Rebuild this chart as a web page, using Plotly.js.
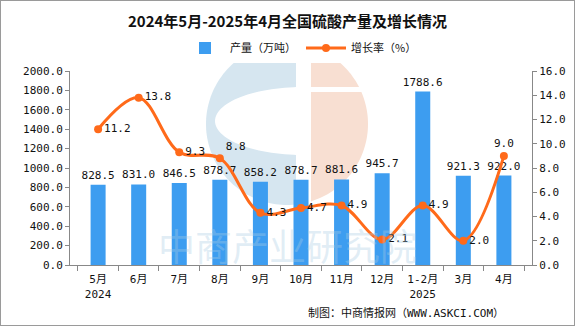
<!DOCTYPE html>
<html>
<head>
<meta charset="utf-8">
<script src="https://cdn.plot.ly/plotly-3.0.1.min.js"></script>
<style>
html,body{margin:0;padding:0;background:#fff;}
#chart{width:575px;height:326px;box-sizing:border-box;border:1px solid #9a9a9a;}
</style>
</head>
<body>
<div id="chart"></div>
<script>
const categories = ["5月<br>2024","6月","7月","8月","9月","10月","11月","12月","1-2月<br>2025","3月","4月"];
const output = [828.5, 831.0, 846.5, 878.7, 858.2, 878.7, 881.6, 945.7, 1788.6, 921.3, 922.0];
const growth = [11.2, 13.8, 9.3, 8.8, 4.3, 4.7, 4.9, 2.1, 4.9, 2.0, 9.0];
const growthLabelPos = ["middle right","middle right","middle right","top right","middle right","middle right","middle right","middle right","middle right","middle right","top center"];

const FONT = "SimSun, 'DejaVu Sans Mono', 'Noto Sans CJK SC', monospace";

// plot geometry (pixels inside the 573x324 plot div)
const M = {l: 69, r: 42, t: 70, b: 60};
const W = 573, H = 324;
const PW = W - M.l - M.r, PH = H - M.t - M.b;
// convert page pixel coords (image incl. 1px border) to paper coords
const px = x => (x - 1 - M.l) / PW;
const py = y => 1 - (y - 1 - M.t) / PH;

function polyPath(pts) {
  return "M" + pts.map(p => px(p[0]).toFixed(4) + "," + py(p[1]).toFixed(4)).join("L") + "Z";
}
// watermark logo geometry
const cx = 287, cy = 124, R = 81;
function circlePart(xmin, xmax) {
  const pts = [];
  for (let i = 0; i <= 180; i++) {
    const a = Math.PI * 2 * i / 180;
    let x = cx + R * Math.cos(a), y = cy + R * Math.sin(a);
    if (x < xmin) x = xmin;
    if (x > xmax) x = xmax;
    pts.push([x, y]);
  }
  return pts;
}
function ellipsePts(ex, ey, rx, ry, xmax) {
  const pts = [];
  for (let i = 0; i <= 120; i++) {
    const a = Math.PI * 2 * i / 120;
    let x = ex + rx * Math.cos(a);
    if (x > xmax) x = xmax;
    pts.push([x, ey + ry * Math.sin(a)]);
  }
  return pts;
}
const logoShapes = [
  {type: "path", xref: "paper", yref: "paper", layer: "below", line: {width: 0},
   fillcolor: "#D6E6F0", path: polyPath(circlePart(0, 296))},
  {type: "path", xref: "paper", yref: "paper", layer: "below", line: {width: 0},
   fillcolor: "#FFFFFF", path: polyPath(ellipsePts(303, 121, 88, 34, 296))},
  {type: "path", xref: "paper", yref: "paper", layer: "below", line: {width: 0},
   fillcolor: "#F8DFD2", path: polyPath(circlePart(311, 999))},
  {type: "rect", xref: "paper", yref: "paper", layer: "below", line: {width: 0},
   fillcolor: "#FFFFFF", x0: px(300), x1: px(380), y0: py(87), y1: py(92)}
];

const bar = {
  type: "bar", name: "产量（万吨）", x: categories, y: output,
  marker: {color: "#3D9DF0"}, width: 0.37,
  text: output.map(v => v.toFixed(1)), textposition: "outside", constraintext: "none",
  textfont: {family: FONT, size: 11, color: "#111"}, cliponaxis: false,
  yaxis: "y"
};
const line = {
  type: "scatter", mode: "lines+markers+text", name: "增长率（%）", x: categories, y: growth,
  line: {color: "#FF6A1A", width: 3, shape: "spline", smoothing: 1},
  marker: {color: "#FF6A1A", size: 8},
  text: growth.map(v => v.toFixed(1)), textposition: growthLabelPos,
  textfont: {family: FONT, size: 11, color: "#111"}, cliponaxis: false,
  yaxis: "y2"
};

const layout = {
  width: W, height: H,
  margin: M,
  paper_bgcolor: "#fff", plot_bgcolor: "rgba(0,0,0,0)",
  font: {family: FONT, size: 11, color: "#111"},
  title: {text: "<b>2024年5月-2025年4月全国硫酸产量及增长情况</b>", x: 0.5, xanchor: "center", y: 0.935, yanchor: "middle",
          font: {family: "'Noto Sans CJK SC', serif", size: 15, color: "#111"}},
  showlegend: true,
  legend: {orientation: "h", x: 0.5, xanchor: "center", y: py(48), yanchor: "middle",
           font: {family: "'Noto Sans CJK SC'", size: 11}, itemwidth: 40, traceorder: "normal"},
  bargap: 0.63,
  xaxis: {type: "category", showline: true, linecolor: "#888", ticks: "outside", tickson: "boundaries",
          ticklen: 5, tickcolor: "#888", showgrid: false, ticklabelstandoff: 4, tickfont: {family: FONT, size: 11}},
  yaxis: {range: [0, 2000], dtick: 200, tickformat: ".1f", showline: true, linecolor: "#888",
          ticks: "outside", ticklen: 4, tickcolor: "#888", showgrid: false, zeroline: false,
          tickfont: {family: FONT, size: 11}},
  yaxis2: {range: [0, 16], dtick: 2, tickformat: ".1f", overlaying: "y", side: "right", showline: true,
           linecolor: "#888", ticks: "outside", ticklen: 4, tickcolor: "#888", showgrid: false, zeroline: false,
           tickfont: {family: FONT, size: 11}},
  shapes: logoShapes,
  annotations: [
    {text: "制图：中商情报网（WWW.ASKCI.COM）", xref: "paper", yref: "paper", x: px(506), y: py(313),
     xanchor: "right", yanchor: "middle", showarrow: false, font: {family: FONT, size: 11, color: "#111"}},
    {text: "中商产业研究院", xref: "paper", yref: "paper", x: px(287), y: py(245), xanchor: "center", yanchor: "middle",
     showarrow: false, font: {family: "'Noto Sans CJK SC'", size: 37, color: "rgba(170,205,228,0.35)"}}
  ]
};

Plotly.newPlot("chart", [bar, line], layout, {displayModeBar: false, staticPlot: true});
</script>
</body>
</html>
